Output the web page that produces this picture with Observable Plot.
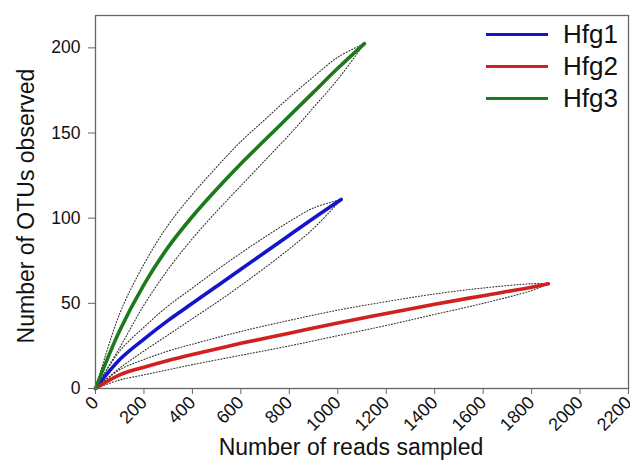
<!DOCTYPE html>
<html>
<head>
<meta charset="utf-8">
<script src="https://cdn.jsdelivr.net/npm/d3@7"></script>
<script src="https://cdn.jsdelivr.net/npm/@observablehq/plot@0.6"></script>
<style>
  html, body { margin: 0; padding: 0; background: #fff; }
  #wrap { position: relative; width: 630px; height: 465px; font-family: "Liberation Sans", Arial, sans-serif; }
  #legend { position: absolute; left: 486px; top: 18px; }
  .lg { display: flex; align-items: center; height: 32px; }
  .lg span.sw { display: inline-block; width: 62px; height: 3px; margin-right: 15px; }
  .lg span.tx { font-size: 26px; color: #111; line-height: 26px; }
</style>
</head>
<body>
<div id="wrap"></div>
<script>
// ---- data ----
const seriesNames = ["Hfg1", "Hfg2", "Hfg3"];
const seriesColors = ["#1414cc", "#d21f1f", "#1c7a1c"];

const hfg1Reads = [0, 100, 200, 300, 400, 500, 600, 700, 800, 900, 1014];
const hfg1Otus  = [0, 17, 29, 40, 50, 60, 70, 80, 90, 100, 111];
const hfg1Band  = [0, 5, 7, 8.5, 9, 9.5, 9.5, 9, 8, 6, 0];

const hfg2Reads = [0, 100, 200, 300, 400, 600, 800, 1000, 1200, 1400, 1600, 1800, 1869];
const hfg2Otus  = [0, 8, 12.5, 16.5, 20, 26.5, 32.5, 38.5, 44, 49.5, 54.5, 59.5, 61.5];
const hfg2Band  = [0, 3, 4.5, 5.5, 6, 7, 7.5, 7.5, 7, 6, 4.5, 2, 0];

const hfg3Reads = [0, 100, 200, 300, 400, 500, 600, 700, 800, 900, 1000, 1110];
const hfg3Otus  = [0, 34, 61, 83, 101, 117, 132, 146, 160, 174, 188, 202.5];
const hfg3Band  = [0, 10, 12, 13, 13, 13, 13, 12, 11, 9, 6.5, 0];

const xTicks = [0, 200, 400, 600, 800, 1000, 1200, 1400, 1600, 1800, 2000, 2200];
const yTicks = [0, 50, 100, 150, 200];
const xLabel = "Number of reads sampled";
const yLabel = "Number of OTUs observed";

// ---- build tables ----
const raw = [
  [hfg1Reads, hfg1Otus, hfg1Band],
  [hfg2Reads, hfg2Otus, hfg2Band],
  [hfg3Reads, hfg3Otus, hfg3Band]
];
const rows = [];
raw.forEach(([r, o, b], i) => {
  r.forEach((x, j) => rows.push({series: seriesNames[i], reads: x, otus: o[j], lo: o[j] - b[j], hi: o[j] + b[j]}));
});

const colorScale = {domain: seriesNames, range: seriesColors};

const chart = Plot.plot({
  width: 630,
  height: 465,
  marginTop: 15,
  marginLeft: 95,
  marginRight: 2,
  marginBottom: 77,
  style: {fontFamily: "Liberation Sans, Arial, sans-serif", color: "#111", background: "#fff"},
  x: {domain: [0, 2200]},
  y: {domain: [0, 219]},
  color: colorScale,
  marks: [
    Plot.line(rows, {x: "reads", y: "hi", z: "series", stroke: "#333", strokeWidth: 1.1, strokeDasharray: "1,2", curve: "catmull-rom"}),
    Plot.line(rows, {x: "reads", y: "lo", z: "series", stroke: "#333", strokeWidth: 1.1, strokeDasharray: "1,2", curve: "catmull-rom"}),
    Plot.line(rows, {x: "reads", y: "otus", z: "series", stroke: "series", strokeWidth: 3.6, curve: "catmull-rom"}),
    Plot.frame({stroke: "#666", strokeWidth: 1.3}),
    Plot.axisX({ticks: xTicks, tickSize: 6, tickPadding: 5, tickRotate: -45, tickFormat: d3.format("d"), fontSize: 18, label: null, stroke: "#666"}),
    Plot.axisY({ticks: yTicks, tickSize: 7, tickPadding: 8, tickFormat: d3.format("d"), fontSize: 17.5, label: null, stroke: "#666"}),
    Plot.text([xLabel], {text: d => d, frameAnchor: "bottom", textAnchor: "middle", dy: 66, dx: -11, fontSize: 23, fill: "#111"}),
    Plot.text([yLabel], {text: d => d, frameAnchor: "left", textAnchor: "middle", rotate: -90, dx: -69, dy: 4, fontSize: 23, fill: "#111"})
  ]
});

const wrap = document.getElementById("wrap");
wrap.appendChild(chart);

// legend built from series arrays
const legend = document.createElement("div");
legend.id = "legend";
seriesNames.forEach((name, i) => {
  const row = document.createElement("div");
  row.className = "lg";
  const sw = document.createElement("span");
  sw.className = "sw";
  sw.style.background = seriesColors[i];
  const tx = document.createElement("span");
  tx.className = "tx";
  tx.textContent = name;
  row.appendChild(sw);
  row.appendChild(tx);
  legend.appendChild(row);
});
wrap.appendChild(legend);
</script>
</body>
</html>
